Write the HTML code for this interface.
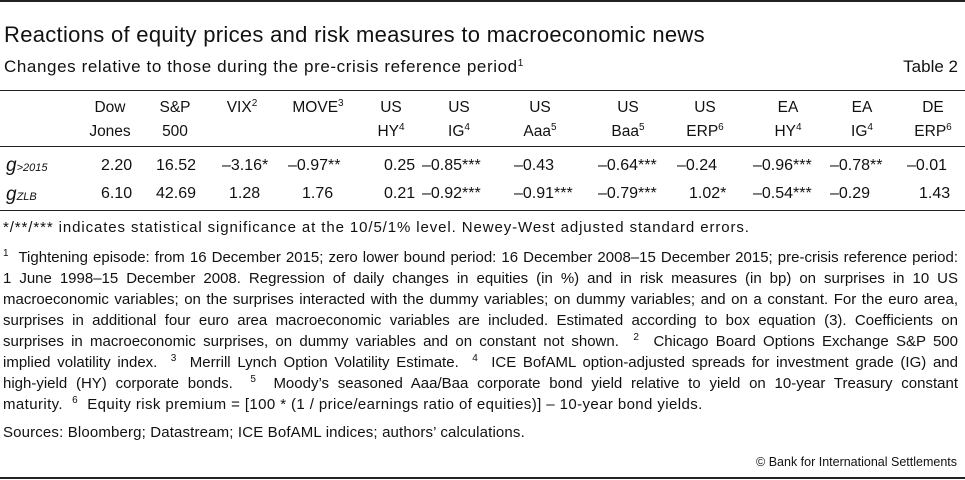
<!DOCTYPE html>
<html><head><meta charset="utf-8">
<style>
body{margin:0;width:965px;height:480px;overflow:hidden;background:#fff;font-family:"Liberation Sans",sans-serif;color:#111;position:relative}
.a{position:absolute;white-space:nowrap}
.rule{position:absolute;left:0;width:965px;background:#222}
.h{position:absolute;font-size:15.5px;text-align:center;width:80px;line-height:24px}
.v{position:absolute;font-size:16px}
sup{font-size:10px;vertical-align:6px;line-height:0}
.fn{position:absolute;left:3px;width:955px;font-size:15px;text-align:justify;text-align-last:justify;white-space:nowrap;line-height:20px}
.fn.last{text-align-last:left}
</style></head><body>
<div class="rule" style="top:0;height:2px"></div>
<div class="a" style="left:4px;top:22px;font-size:22px;letter-spacing:0.3px">Reactions of equity prices and risk measures to macroeconomic news</div>
<div class="a" style="left:4px;top:57px;font-size:17px;letter-spacing:0.6px">Changes relative to those during the pre-crisis reference period<sup>1</sup></div>
<div class="a" style="right:7px;top:57px;font-size:17px">Table 2</div>
<div class="rule" style="top:90px;height:1px"></div>

<div id="hdr"></div>
<div class="rule" style="top:146px;height:1px"></div>

<div class="a" style="left:6px;top:155px;font-size:19px;font-style:italic">g<span style="font-size:11px">&gt;2015</span></div>
<div class="a" style="left:6px;top:184px;font-size:19px;font-style:italic">g<span style="font-size:11px">ZLB</span></div>
<div id="rows"></div>
<div class="rule" style="top:210px;height:1px"></div>

<div class="a" style="left:3px;top:219px;font-size:15px;letter-spacing:0.9px">*/**/*** indicates statistical significance at the 10/5/1% level. Newey-West adjusted standard errors.</div>
<div>
<div class="fn" style="top:248px"><sup>1</sup>&nbsp; Tightening episode: from 16 December 2015; zero lower bound period: 16 December 2008–15 December 2015; pre-crisis reference period:</div>
<div class="fn" style="top:269px">1 June 1998–15 December 2008. Regression of daily changes in equities (in %) and in risk measures (in bp) on surprises in 10 US</div>
<div class="fn" style="top:290px">macroeconomic variables; on the surprises interacted with the dummy variables; on dummy variables; and on a constant. For the euro area,</div>
<div class="fn" style="top:311px">surprises in additional four euro area macroeconomic variables are included. Estimated according to box equation (3). Coefficients on</div>
<div class="fn" style="top:332px">surprises in macroeconomic surprises, on dummy variables and on constant not shown. &nbsp;<sup>2</sup>&nbsp; Chicago Board Options Exchange S&amp;P 500</div>
<div class="fn" style="top:353px">implied volatility index. &nbsp;<sup>3</sup>&nbsp; Merrill Lynch Option Volatility Estimate. &nbsp;<sup>4</sup>&nbsp; ICE BofAML option-adjusted spreads for investment grade (IG) and</div>
<div class="fn" style="top:374px">high-yield (HY) corporate bonds. &nbsp;<sup>5</sup>&nbsp; Moody’s seasoned Aaa/Baa corporate bond yield relative to yield on 10-year Treasury constant</div>
<div class="fn last" style="top:395px;letter-spacing:0.4px">maturity. &nbsp;<sup>6</sup>&nbsp; Equity risk premium = [100 * (1 / price/earnings ratio of equities)] – 10-year bond yields.</div>
</div>
<div class="a" style="left:3px;top:424px;font-size:15px;letter-spacing:0.15px">Sources: Bloomberg; Datastream; ICE BofAML indices; authors’ calculations.</div>
<div class="a" style="right:8px;top:455px;font-size:12.5px">© Bank for International Settlements</div>
<div class="rule" style="top:477px;height:2px"></div>

<script>
const headers=[["Dow","Jones"],["S&amp;P","500"],["VIX<sup>2</sup>",""],["MOVE<sup>3</sup>",""],["US","HY<sup>4</sup>"],["US","IG<sup>4</sup>"],["US","Aaa<sup>5</sup>"],["US","Baa<sup>5</sup>"],["US","ERP<sup>6</sup>"],["EA","HY<sup>4</sup>"],["EA","IG<sup>4</sup>"],["DE","ERP<sup>6</sup>"]];
const row2015=["2.20","16.52","–3.16*","–0.97**","0.25","–0.85***","–0.43","–0.64***","–0.24","–0.96***","–0.78**","–0.01"];
const rowZLB=["6.10","42.69","1.28","1.76","0.21","–0.92***","–0.91***","–0.79***","1.02*","–0.54***","–0.29","1.43"];
const hc=[110,175,242,318,391,459,540,628,705,788,862,933];
const rowStart2015=[101,156,222,288,384,422,514,598,677,753,830,907];
const rowStartZLB=[101,156,229,302,384,422,514,598,689,753,830,919];
const hdr=document.getElementById('hdr');
headers.forEach((h,i)=>{
  const d=document.createElement('div');
  d.className='h';d.style.left=(hc[i]-40)+'px';d.style.top='96px';
  d.innerHTML=h[0]+'<br>'+h[1];
  
  
  hdr.appendChild(d);
});
const rows=document.getElementById('rows');
function addRow(vals,starts,top,name){
  vals.forEach((v,i)=>{
    const d=document.createElement('div');
    d.className='v';d.style.left=starts[i]+'px';d.style.top=top+'px';
    d.textContent=v;
    
    
    rows.appendChild(d);
  });
}
addRow(row2015,rowStart2015,157,'cell-g2015');
addRow(rowZLB,rowStartZLB,185,'cell-gzlb');
document.querySelectorAll('.fn').forEach(el=>{
  
  
  let fs=15;
  while(el.scrollWidth>el.clientWidth+1&&fs>9){fs-=0.2;el.style.fontSize=fs+'px';}
});
</script>
</body></html>
